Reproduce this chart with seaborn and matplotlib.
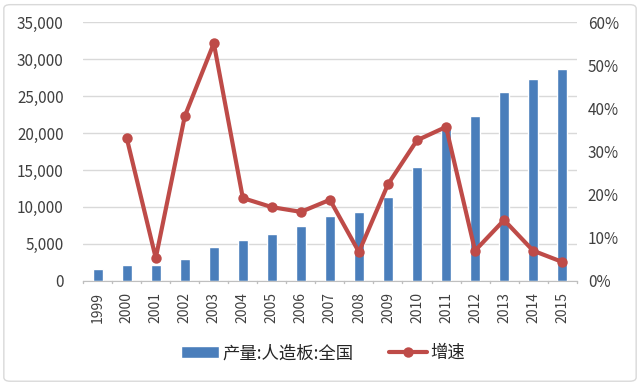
import matplotlib
import numpy as np
import pandas as pd
import seaborn as sns

matplotlib.use("Agg")

import matplotlib.pyplot as plt
from matplotlib.lines import Line2D
from matplotlib.patches import FancyBboxPatch, Patch

years = ["1999", "2000", "2001", "2002", "2003", "2004", "2005", "2006", "2007",
         "2008", "2009", "2010", "2011", "2012", "2013", "2014", "2015"]
output = [1600, 2200, 2100, 3000, 4600, 5500, 6400, 7400, 8800,
          9300, 11400, 15400, 20800, 22300, 25500, 27300, 28600]
growth_years = years[1:]
growth = [33.1, 5.3, 38.2, 55.1, 19.2, 17.1, 16.0, 18.8,
          6.7, 22.4, 32.6, 35.7, 7.0, 14.1, 7.0, 4.4]

bar_label = "产量:人造板:全国"
line_label = "增速"
BAR_COLOR = "#4a7ebb"
LINE_COLOR = "#be4b48"

sns.set_style("white")
plt.rcParams["font.family"] = ["Noto Sans CJK SC", "DejaVu Sans"]

bars = pd.DataFrame({"year": years, "output": output})
line = pd.DataFrame({"pos": [years.index(y) for y in growth_years], "growth": growth})

fig = plt.figure(figsize=(6.4, 3.89), dpi=100)
ax = fig.add_axes([0.130, 0.278, 0.771, 0.665])
sns.barplot(data=bars, x="year", y="output", color=BAR_COLOR, width=0.34,
            saturation=1, ax=ax, zorder=2)
ax.set_ylim(0, 35000)
ax.set_yticks(np.arange(0, 35001, 5000))
ax.set_yticklabels([f"{v:,}" for v in range(0, 35001, 5000)], fontsize=11, color="#404040")
ax.set_xlim(-0.5, len(years) - 0.5)
ax.set_xlabel("")
ax.set_ylabel("")
ax.tick_params(axis="x", labelrotation=90, labelsize=10, labelcolor="#404040", length=0, pad=8)
ax.tick_params(axis="y", length=0, pad=14)
ax.grid(axis="y", color="#d9d9d9", linewidth=1)
ax.set_axisbelow(True)
for side in ["top", "right", "left"]:
    ax.spines[side].set_visible(False)
ax.spines["bottom"].set_color("#bfbfbf")
for b in np.arange(-0.5, len(years), 1):
    ax.plot([b, b], [0, -300], color="#bfbfbf", lw=1, clip_on=False)

ax2 = ax.twinx()
sns.lineplot(data=line, x="pos", y="growth", color=LINE_COLOR, linewidth=3,
             marker="o", markersize=7.5, markeredgewidth=0, ax=ax2)
ax2.set_ylim(0, 60)
ax2.set_yticks(np.arange(0, 61, 10))
ax2.set_yticklabels([f"{v}%" for v in range(0, 61, 10)], fontsize=11, color="#404040")
ax2.tick_params(axis="y", length=0, pad=8)
ax2.set_xlim(-0.5, len(years) - 0.5)
ax2.set_xlabel("")
ax2.set_ylabel("")
for side in ["top", "right", "left", "bottom"]:
    ax2.spines[side].set_visible(False)

handles = [
    Patch(facecolor=BAR_COLOR, label=bar_label),
    Line2D([0], [0], color=LINE_COLOR, lw=3, marker="o", markersize=7.5,
           markeredgewidth=0, label=line_label),
]
fig.legend(handles=handles, loc="center", bbox_to_anchor=(0.505, 0.092), ncol=2,
           frameon=False, fontsize=12.5, handlelength=2.2, handletextpad=0.2,
           columnspacing=2.0)

fig.patches.append(FancyBboxPatch((0.006, 0.02), 0.988, 0.968, boxstyle="round,pad=0,rounding_size=0.01",
                                  transform=fig.transFigure, fill=False,
                                  edgecolor="#d9d9d9", linewidth=1))

fig.savefig("out.png", dpi=100)
plt.close(fig)
